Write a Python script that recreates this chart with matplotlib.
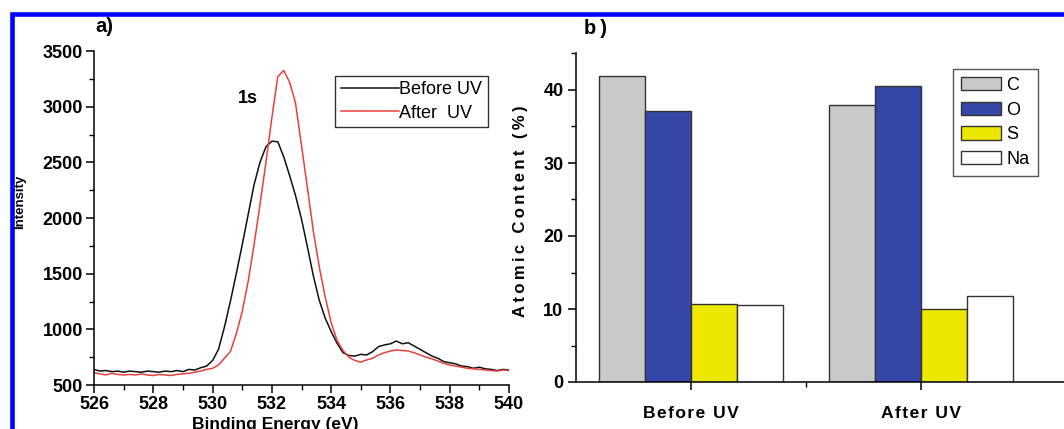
import matplotlib
matplotlib.use("Agg")
import matplotlib.pyplot as plt
from matplotlib.patches import Rectangle
from matplotlib.ticker import MultipleLocator
import numpy as np

# ---------------- data ----------------
energy = [526.0 + 0.2 * i for i in range(71)]
before_uv = [640, 625, 630, 620, 625, 615, 625, 620, 615, 625,
             620, 615, 625, 620, 630, 620, 640, 635, 655, 670,
             720, 820, 1020, 1250, 1500, 1760, 2030, 2300, 2500, 2640,
             2690, 2685, 2550, 2380, 2200, 1990, 1740, 1480, 1260, 1100,
             980, 875, 790, 765, 760, 775, 770, 800, 845, 860,
             870, 895, 870, 880, 850, 820, 790, 760, 740, 710,
             700, 690, 670, 665, 650, 660, 645, 640, 630, 640, 635]
after_uv = [610, 600, 590, 605, 595, 590, 595, 590, 600, 590,
            585, 595, 590, 585, 595, 600, 605, 615, 625, 640,
            650, 680, 740, 800, 960, 1160, 1430, 1760, 2120, 2500,
            2900, 3270, 3325, 3220, 3030, 2650, 2270, 1880, 1560, 1290,
            1060, 900, 810, 750, 720, 705, 725, 740, 770, 790,
            805, 815, 810, 805, 790, 770, 750, 735, 715, 695,
            680, 670, 660, 650, 645, 640, 635, 630, 625, 635, 630]

groups = ["Before UV", "After UV"]
elements = ["C", "O", "S", "Na"]
content_before = [41.9, 37.1, 10.7, 10.55]
content_after = [38.0, 40.5, 10.05, 11.75]
bar_colors = ["#c9c9c7", "#3547a6", "#ede800", "#ffffff"]

# ---------------- style ----------------
FAM = ["Liberation Sans", "DejaVu Sans"]
plt.rcParams["font.family"] = FAM
plt.rcParams["axes.linewidth"] = 1.1

W, H = 1064, 429
fig = plt.figure(figsize=(W / 100, H / 100), dpi=100)

def px(x, y):
    return x / W, 1 - y / H

def spaced(s, sep="\u200a"):
    return sep.join(s)

# blue frame
fig.add_artist(Rectangle((11.5 / W, -0.2), 1.5, (H - 14) / H + 0.2,
                         transform=fig.transFigure, fill=False,
                         edgecolor="#0000ff", lw=3.3))

# ---------------- panel a ----------------
axa = fig.add_axes([94 / W, 44 / H, 415 / W, 334 / H])
axa.plot(energy, before_uv, color="#111111", lw=1.1, label="Before UV")
axa.plot(energy, after_uv, color="#e8413c", lw=1.1, label="After  UV")
axa.set_xlim(526, 540)
axa.set_ylim(500, 3500)
axa.xaxis.set_major_locator(MultipleLocator(2))
axa.xaxis.set_minor_locator(MultipleLocator(1))
axa.yaxis.set_major_locator(MultipleLocator(500))
axa.yaxis.set_minor_locator(MultipleLocator(250))
for s in ("top", "right"):
    axa.spines[s].set_visible(False)
axa.tick_params(which="major", direction="out", length=6, width=1.1,
                labelsize=13, pad=2)
axa.tick_params(which="minor", direction="out", length=3.5, width=1.0)
for lab in axa.get_xticklabels() + axa.get_yticklabels():
    lab.set_fontweight("bold")
leg = axa.legend(loc="upper right", bbox_to_anchor=(0.949, 0.925),
                 fontsize=13, frameon=True, fancybox=False, framealpha=1,
                 edgecolor="#333333", handlelength=3.2, handletextpad=0.05,
                 borderpad=0.3, labelspacing=0.35, borderaxespad=0)
leg.get_frame().set_linewidth(1.0)
axa.text(531.2, 3070, "1s", fontsize=13, fontweight="bold",
         ha="center", va="center")

fig.text(*px(104, 26), "a)", fontsize=14.5, fontweight="bold",
         ha="center", va="center")
fig.text(*px(20, 202), "Intensity", fontsize=9.5, fontweight="bold",
         rotation=90, ha="center", va="center")
fig.text(*px(275, 425), "Binding Energy (eV)", fontsize=12.5,
         fontweight="bold", ha="center", va="center")

# ---------------- panel b ----------------
axb = fig.add_axes([576 / W, 47 / H, 517 / W, 328.5 / H])
x = np.arange(1, len(groups) + 1)
bw = 0.2
for i, el in enumerate(elements):
    vals = [content_before[i], content_after[i]]
    axb.bar(x + (i - 1.5) * bw, vals, width=bw, color=bar_colors[i],
            edgecolor="#333333", linewidth=1.0, label=el)
axb.set_xlim(0.5, 2.75)
axb.set_ylim(0, 45)
axb.set_xticks(x)
axb.set_xticks([1.5], minor=True)
axb.set_xticklabels([spaced(g) for g in groups])
axb.yaxis.set_major_locator(MultipleLocator(10))
axb.yaxis.set_minor_locator(MultipleLocator(5))
for s in ("top", "right"):
    axb.spines[s].set_visible(False)
axb.tick_params(which="major", direction="out", length=6, width=1.1,
                labelsize=13, pad=3)
axb.tick_params(axis="x", which="major", pad=11, labelsize=12.5)
axb.tick_params(which="minor", direction="out", length=3.5, width=1.0)
for lab in axb.get_xticklabels() + axb.get_yticklabels():
    lab.set_fontweight("bold")
legb = axb.legend(loc="upper left",
                  bbox_to_anchor=((953 - 576) / 517, 1 - (69 - 53.5) / 328.5),
                  fontsize=13, frameon=True, fancybox=False, framealpha=1,
                  edgecolor="#555555", handlelength=2.2, handleheight=0.75,
                  handletextpad=0.3, borderpad=0.45, labelspacing=0.42,
                  borderaxespad=0)
legb.get_frame().set_linewidth(1.0)

fig.text(*px(596, 28), "b\u2009)", fontsize=14.5, fontweight="bold",
         ha="center", va="center")
fig.text(*px(521, 211), spaced("Atomic Content (%)", "\u2009"),
         fontsize=12, fontweight="bold", rotation=90, ha="center", va="center")

fig.savefig("out.png", dpi=100)
